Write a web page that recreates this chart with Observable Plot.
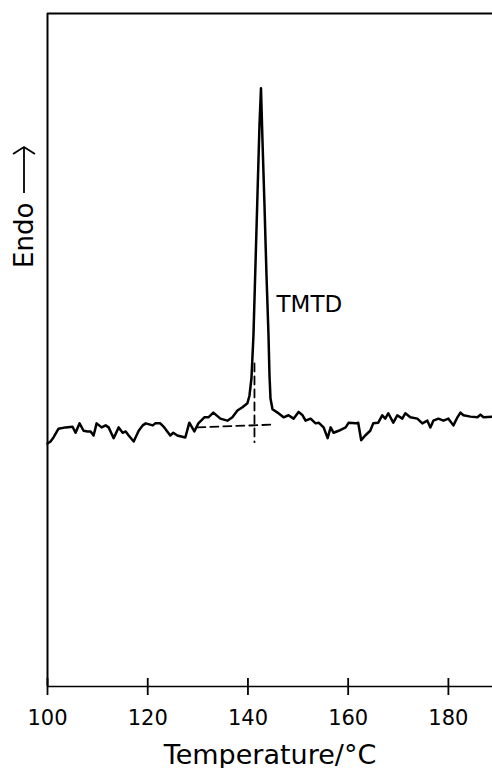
<!DOCTYPE html>
<html>
<head>
<meta charset="utf-8">
<script src="https://cdn.jsdelivr.net/npm/d3@7"></script>
<script src="https://cdn.jsdelivr.net/npm/@observablehq/plot@0.6"></script>
<style>
  html, body { margin: 0; padding: 0; background: white; }
</style>
</head>
<body>
<script>
// DSC trace of TMTD (temperature in °C, endothermic signal in arbitrary units)
const temps = [100.0,100.6,101.2,102.2,103.6,105.0,105.6,106.4,107.2,108.0,108.6,109.2,109.8,110.8,111.6,112.2,113.2,114.2,115.0,115.6,116.2,117.2,118.2,119.0,119.6,121.0,121.5,122.5,123.3,124.5,125.1,125.9,127.5,128.3,129.3,130.1,131.3,132.1,133.1,134.5,135.9,136.9,137.9,138.9,139.9,140.3,140.7,141.1,141.5,141.9,142.3,142.6,142.9,143.3,143.7,144.1,144.3,144.5,144.9,145.9,147.1,148.1,149.1,150.1,150.9,151.5,152.5,153.5,154.1,155.1,155.9,156.5,157.1,158.1,159.5,160.1,161.5,162.0,162.6,163.4,164.4,165.0,166.0,166.8,167.4,168.0,169.0,169.8,170.8,171.4,172.4,173.8,174.8,175.8,176.4,177.0,178.0,179.0,180.0,181.0,181.8,182.4,183.0,184.4,185.8,186.4,187.0,188.8];
const signal = [36.1,36.4,37.0,38.3,38.5,38.6,37.7,39.1,38.0,37.9,37.9,37.3,39.1,38.5,38.8,38.5,36.9,38.5,37.7,37.9,37.3,36.4,38.0,38.8,39.1,38.8,39.1,39.1,38.5,37.3,37.7,37.3,37.0,39.2,37.9,39.1,40.0,40.0,40.7,39.8,39.5,40.0,41.0,41.5,42.1,43.2,45.8,52.2,62.6,73.0,83.4,88.9,81.1,71.5,61.1,52.2,46.2,42.8,41.2,40.7,40.0,40.3,39.8,40.8,40.3,39.5,39.8,39.1,39.2,38.5,36.9,38.5,37.7,38.0,38.5,39.2,39.1,39.2,36.6,37.3,38.0,39.1,39.2,40.3,39.8,40.6,39.2,40.3,39.8,40.6,40.0,39.8,39.1,39.5,38.5,39.5,39.8,39.5,39.8,38.8,40.0,40.7,40.3,40.1,40.0,40.4,40.0,40.1];

// construction lines (dashed): extrapolated baseline and onset drop line
const baseT = [129.9, 144.5];
const baseV = [38.5, 38.9];
const dropT = [141.3, 141.3];
const dropV = [48.0, 36.3];

const xTicks = [100, 120, 140, 160, 180];
const peakLabel = ["TMTD"];
const peakLabelT = [145.7];
const peakLabelV = [55.7];

const trace = temps.map((t, i) => ({t, v: signal[i]}));
const baseline = baseT.map((t, i) => ({t, v: baseV[i]}));
const dropLine = dropT.map((t, i) => ({t, v: dropV[i]}));
const labels = peakLabel.map((s, i) => ({s, t: peakLabelT[i], v: peakLabelV[i]}));

const font = "DejaVu Sans";

const chart = Plot.plot({
  width: 492,
  height: 768,
  marginLeft: 47,
  marginRight: 0,
  marginTop: 13,
  marginBottom: 82,
  style: {fontFamily: font, background: "white", color: "black", overflow: "visible"},
  x: {domain: [100, 188.8]},
  y: {domain: [0, 100], axis: null},
  marks: [
    Plot.ruleX([100], {stroke: "black", strokeWidth: 2}),
    Plot.ruleY([100], {stroke: "black", strokeWidth: 2}),
    Plot.ruleY([0], {stroke: "black", strokeWidth: 1.6}),
    Plot.axisX(xTicks, {tickSize: 17, dy: -8, fill: "none", label: null, strokeWidth: 1.8}),
    Plot.axisX(xTicks, {tickSize: 0, tickPadding: 24, label: null, fontSize: 21, fill: "black", letterSpacing: 0.5}),
    Plot.text(["Temperature/°C"], {frameAnchor: "bottom", dy: 77, lineAnchor: "bottom", fontSize: 27, fill: "black", letterSpacing: 1.5}),
    Plot.line(baseline, {x: "t", y: "v", stroke: "black", strokeWidth: 1.8, strokeDasharray: "8,5"}),
    Plot.line(dropLine, {x: "t", y: "v", stroke: "black", strokeWidth: 1.8, strokeDasharray: "8,5"}),
    Plot.line(trace, {x: "t", y: "v", stroke: "black", strokeWidth: 2.5, strokeLinejoin: "round"}),
    Plot.text(labels, {x: "t", y: "v", text: "s", textAnchor: "start", lineAnchor: "bottom", fontSize: 23, fill: "black", letterSpacing: 2.5})
  ]
});

document.body.appendChild(chart);

// rotated y label "Endo" with an upward arrow
const svg = d3.select(chart);
const g = svg.append("g").attr("transform", "translate(33,268) rotate(-90)");
g.append("text").text("Endo")
  .attr("text-anchor", "start")
  .attr("font-family", font).attr("font-size", 26).attr("fill", "black");
g.append("line").attr("x1", 75).attr("y1", -9).attr("x2", 121).attr("y2", -9)
  .attr("stroke", "black").attr("stroke-width", 1.8);
g.append("polyline").attr("points", "114,-20 121,-9 114,2")
  .attr("fill", "none").attr("stroke", "black").attr("stroke-width", 1.8);
</script>
</body>
</html>
